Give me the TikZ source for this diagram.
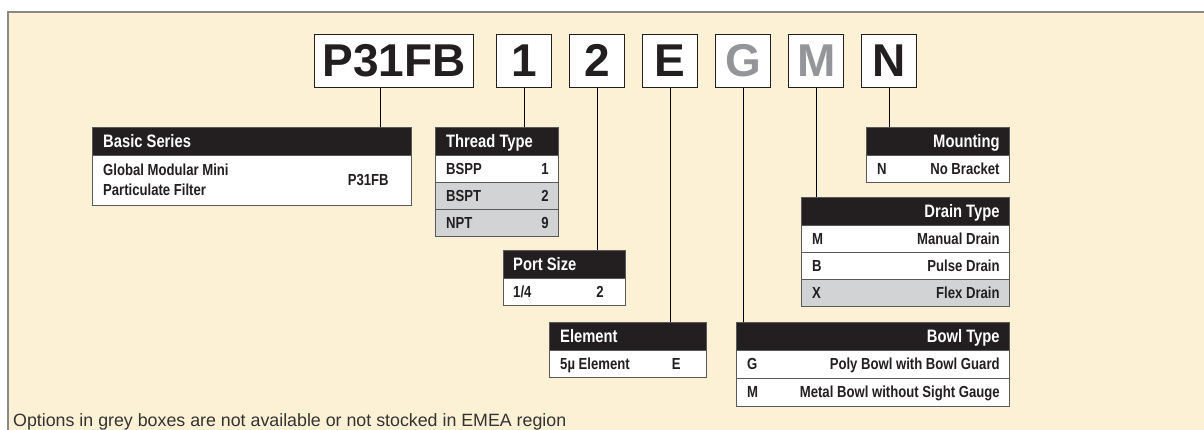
\documentclass[tikz,border=0pt]{standalone}
\usepackage{fontspec}
\setmainfont{Liberation Sans}
\newfontfamily\condfont{Liberation Sans}[FakeStretch=0.82]
\newcommand\hdrfont{\condfont\bfseries\fontsize{18}{20}\selectfont}
\newcommand\bodyfont{\condfont\bfseries\fontsize{16}{20}\selectfont}
\newcommand\codefont{\bfseries\fontsize{46}{50}\selectfont}
\definecolor{cream}{HTML}{FDF1D5}
\definecolor{panelborder}{HTML}{8A8A84}
\definecolor{hdrblack}{HTML}{231F20}
\definecolor{rowgrey}{HTML}{D1D3D4}
\definecolor{tblborder}{HTML}{58595B}
\definecolor{codegrey}{HTML}{939598}
\definecolor{txtblack}{HTML}{231F20}
\definecolor{foottext}{HTML}{333333}
\tikzset{
  codebox/.style={draw=hdrblack, line width=1.4pt, fill=white, minimum width=55pt,
    minimum height=53pt, inner sep=0pt, anchor=north west, font=\codefont,
    text height=31.6pt, text depth=0pt, text=txtblack},
  hdrbox/.style={draw=tblborder, fill=hdrblack, line width=0.8pt, anchor=north west,
    inner sep=0pt, minimum height=28pt},
  rowbox/.style={draw=tblborder, fill=white, line width=0.8pt, anchor=north west,
    inner sep=0pt, minimum height=27pt},
  greyrow/.style={rowbox, fill=rowgrey},
  htxt/.style={inner sep=0pt, text=white, font=\hdrfont, text height=12.4pt, text depth=0pt},
  btxt/.style={inner sep=0pt, text=txtblack, font=\bodyfont, text height=11pt, text depth=0pt},
  conn/.style={draw=black, line width=1.3pt},
}
\begin{document}
\begin{tikzpicture}[x=1pt,y=-1pt]
\useasboundingbox (0,0) rectangle (1204,430);
% panel
\fill[cream] (8,12) rectangle (1210,436);
\draw[panelborder, line width=1.5pt] (8,436) -- (8,12) -- (1210,12);

% code boxes
\node[codebox, minimum width=159pt] (p31) at (314,34) {P31FB};
\node[codebox] (c1) at (496,34) {1};
\node[codebox] (c2) at (569,34) {2};
\node[codebox] (cE) at (642,34) {E};
\node[codebox, text=codegrey] (cG) at (715,34) {G};
\node[codebox, text=codegrey] (cM) at (788,34) {M};
\node[codebox] (cN) at (861,34) {N};

% Basic Series
\node[hdrbox, minimum width=319pt] (bsH) at (92,127) {};
\node[htxt, anchor=west] at ([xshift=11pt]bsH.west) {Basic Series};
\node[rowbox, minimum width=319pt, minimum height=50pt] (bsB) at (92,155) {};
\node[btxt, anchor=base west] at ([xshift=11pt, yshift=4.5pt]bsB.west) {Global Modular Mini};
\node[btxt, anchor=base west] at ([xshift=11pt, yshift=-15.5pt]bsB.west) {Particulate Filter};
\node[btxt, anchor=east] at ([xshift=-23pt]bsB.east) {P31FB};

% Thread Type
\node[hdrbox, minimum width=123pt] (ttH) at (435,127) {};
\node[htxt, anchor=west] at ([xshift=11pt]ttH.west) {Thread Type};
\node[rowbox, minimum width=123pt] (tt1) at (435,155) {};
\node[greyrow, minimum width=123pt] (tt2) at (435,182) {};
\node[greyrow, minimum width=123pt] (tt3) at (435,209) {};
\node[btxt, anchor=west] at ([xshift=11pt]tt1.west) {BSPP};
\node[btxt, anchor=east] at ([xshift=-10pt]tt1.east) {1};
\node[btxt, anchor=west] at ([xshift=11pt]tt2.west) {BSPT};
\node[btxt, anchor=east] at ([xshift=-10pt]tt2.east) {2};
\node[btxt, anchor=west] at ([xshift=11pt]tt3.west) {NPT};
\node[btxt, anchor=east] at ([xshift=-10pt]tt3.east) {9};

% Port Size
\node[hdrbox, minimum width=122pt] (psH) at (503,250) {};
\node[htxt, anchor=west] at ([xshift=10pt]psH.west) {Port Size};
\node[rowbox, minimum width=122pt] (ps1) at (503,278) {};
\node[btxt, anchor=west] at ([xshift=10pt]ps1.west) {1/4};
\node[btxt, anchor=east] at ([xshift=-22pt]ps1.east) {2};

% Element
\node[hdrbox, minimum width=157pt] (elH) at (549,322) {};
\node[htxt, anchor=west] at ([xshift=11pt]elH.west) {Element};
\node[rowbox, minimum width=157pt] (el1) at (549,350) {};
\node[btxt, anchor=west] at ([xshift=11pt]el1.west) {5µ Element};
\node[btxt, anchor=east] at ([xshift=-26pt]el1.east) {E};

% Bowl Type
\node[hdrbox, minimum width=273pt] (btH) at (736,322) {};
\node[htxt, anchor=east] at ([xshift=-10pt]btH.east) {Bowl Type};
\node[rowbox, minimum width=273pt, minimum height=28pt] (bt1) at (736,350) {};
\node[rowbox, minimum width=273pt, minimum height=28pt] (bt2) at (736,378) {};
\node[btxt, anchor=west] at ([xshift=11pt]bt1.west) {G};
\node[btxt, anchor=east] at ([xshift=-10pt]bt1.east) {Poly Bowl with Bowl Guard};
\node[btxt, anchor=west] at ([xshift=11pt]bt2.west) {M};
\node[btxt, anchor=east] at ([xshift=-10pt]bt2.east) {Metal Bowl without Sight Gauge};

% Drain Type
\node[hdrbox, minimum width=208pt] (dtH) at (801,197) {};
\node[htxt, anchor=east] at ([xshift=-10pt]dtH.east) {Drain Type};
\node[rowbox, minimum width=208pt] (dt1) at (801,225) {};
\node[rowbox, minimum width=208pt] (dt2) at (801,252) {};
\node[greyrow, minimum width=208pt] (dt3) at (801,279) {};
\node[btxt, anchor=west] at ([xshift=11pt]dt1.west) {M};
\node[btxt, anchor=east] at ([xshift=-10pt]dt1.east) {Manual Drain};
\node[btxt, anchor=west] at ([xshift=11pt]dt2.west) {B};
\node[btxt, anchor=east] at ([xshift=-10pt]dt2.east) {Pulse Drain};
\node[btxt, anchor=west] at ([xshift=11pt]dt3.west) {X};
\node[btxt, anchor=east] at ([xshift=-10pt]dt3.east) {Flex Drain};

% Mounting
\node[hdrbox, minimum width=143pt] (mtH) at (866,127) {};
\node[htxt, anchor=east] at ([xshift=-10pt]mtH.east) {Mounting};
\node[rowbox, minimum width=143pt] (mt1) at (866,155) {};
\node[btxt, anchor=west] at ([xshift=11pt]mt1.west) {N};
\node[btxt, anchor=east] at ([xshift=-10pt]mt1.east) {No Bracket};

% connectors
\draw[conn] ([xshift=-13.5pt]p31.south) -- ([xshift=-13.5pt]p31.south |- bsH.north);
\draw[conn] (c1.south) -- (c1.south |- ttH.north);
\draw[conn] (c2.south) -- (c2.south |- psH.north);
\draw[conn] (cE.south) -- (cE.south |- elH.north);
\draw[conn] (cG.south) -- (cG.south |- btH.north);
\draw[conn] (cM.south) -- (cM.south |- dtH.north);
\draw[conn] (cN.south) -- (cN.south |- mtH.north);

% footnote
\node[anchor=base west, inner sep=0pt, font=\fontsize{17.8}{20}\selectfont, text=foottext] (foot) at (13,426)
  {Options in grey boxes are not available or not stocked in EMEA region};
\end{tikzpicture}
\end{document}
